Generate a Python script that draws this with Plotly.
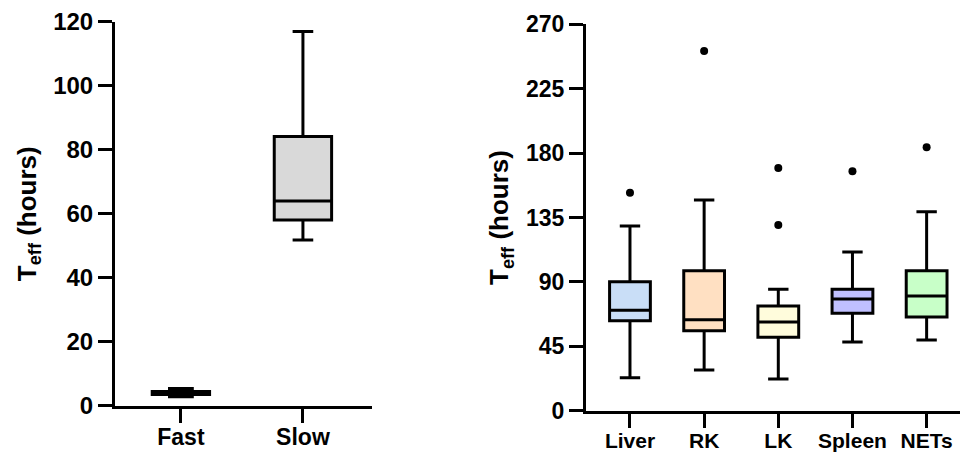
import plotly.graph_objects as go

# Left panel: Fast vs Slow
left_cats = ["Fast", "Slow"]
left_lower = [2.8, 51.8]
left_q1 = [3.5, 58.0]
left_median = [4.0, 64.0]
left_q3 = [4.4, 84.1]
left_upper = [5.4, 116.9]
left_fill = ["#D9D9D9", "#D9D9D9"]
left_yticks = [0, 20, 40, 60, 80, 100, 120]

# Right panel: organs
right_cats = ["Liver", "RK", "LK", "Spleen", "NETs"]
right_lower = [23.1, 28.4, 22.2, 48.0, 49.4]
right_q1 = [62.9, 55.9, 51.3, 68.1, 65.5]
right_median = [70.2, 63.6, 62.0, 78.1, 80.2]
right_q3 = [90.1, 97.8, 73.2, 84.8, 97.8]
right_upper = [129.1, 147.2, 84.8, 110.9, 139.1]
right_fill = ["#C9DEF7", "#FFE0C2", "#FFFCDC", "#C0C0FF", "#C8FFC8"]
outlier_cats = ["Liver", "RK", "LK", "LK", "Spleen", "NETs"]
outlier_vals = [152.3, 251.4, 169.6, 129.8, 167.3, 184.1]
right_yticks = [0, 45, 90, 135, 180, 225, 270]

W, H = 960, 453
FONT = "Liberation Sans, Arial, sans-serif"

fig = go.Figure()

for i, c in enumerate(left_cats):
    fig.add_trace(go.Box(
        x=[c], q1=[left_q1[i]], median=[left_median[i]], q3=[left_q3[i]],
        lowerfence=[left_lower[i]], upperfence=[left_upper[i]],
        fillcolor=left_fill[i], line=dict(color="black", width=3),
        width=0.47, whiskerwidth=0.45 if i == 0 else 0.36,
        boxpoints=False, showlegend=False, xaxis="x", yaxis="y",
        hoverinfo="skip"))

for i, c in enumerate(right_cats):
    fig.add_trace(go.Box(
        x=[c], q1=[right_q1[i]], median=[right_median[i]], q3=[right_q3[i]],
        lowerfence=[right_lower[i]], upperfence=[right_upper[i]],
        fillcolor=right_fill[i], line=dict(color="black", width=3),
        width=0.55, whiskerwidth=0.5,
        boxpoints=False, showlegend=False, xaxis="x2", yaxis="y2",
        hoverinfo="skip"))

fig.add_trace(go.Scatter(
    x=outlier_cats, y=outlier_vals, mode="markers",
    marker=dict(color="black", size=8), showlegend=False,
    xaxis="x2", yaxis="y2", hoverinfo="skip"))


def axis_style(size):
    return dict(
        showline=True, linewidth=3, linecolor="black",
        ticks="outside", ticklen=14, tickwidth=3, tickcolor="black",
        showgrid=False, zeroline=False, automargin=False,
        tickfont=dict(family=FONT, size=size, color="black", weight="bold"),
    )


title_font = dict(family=FONT, size=26, color="black", weight="bold")

fig.update_layout(
    width=W, height=H,
    margin=dict(l=0, r=0, t=0, b=0),
    paper_bgcolor="white", plot_bgcolor="white",
    xaxis=dict(axis_style(23), domain=[115 / W, 372 / W],
               type="category", categoryorder="array", categoryarray=left_cats,
               range=[-0.54, 1.566], anchor="y", ticklabelstandoff=-5),
    yaxis=dict(axis_style(24), domain=[(H - 405.7) / H, (H - 21.7) / H],
               range=[0, 120], tickvals=left_yticks, anchor="x",
               title=dict(text="T<sub>eff</sub> (hours)", font=title_font, standoff=10)),
    xaxis2=dict(axis_style(21), domain=[586 / W, 1.0],
                type="category", categoryorder="array", categoryarray=right_cats,
                range=[-0.593, 4.45], anchor="y2", ticklabelstandoff=-5),
    yaxis2=dict(axis_style(23), domain=[(H - 410.7) / H, (H - 24.3) / H],
                range=[0, 270], tickvals=right_yticks, anchor="x2",
                title=dict(text="T<sub>eff</sub> (hours)", font=title_font, standoff=10)),
)

fig.write_html("out.html")
